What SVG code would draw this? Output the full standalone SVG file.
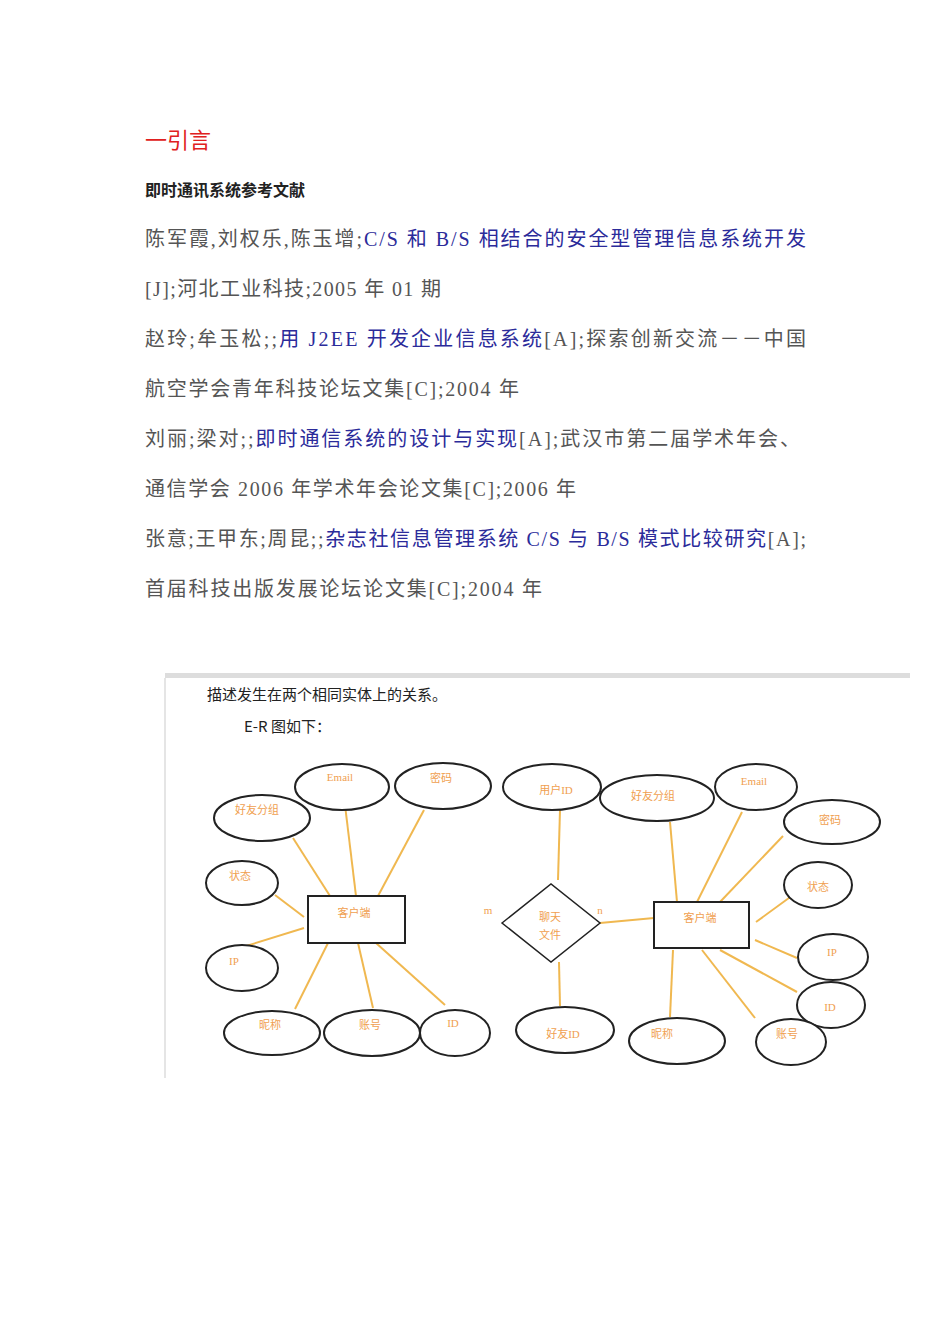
<svg xmlns="http://www.w3.org/2000/svg" width="950" height="1344" viewBox="0 0 950 1344">
<style>
.b{font-family:"Liberation Serif","Noto Sans CJK SC",serif;font-size:20px;fill:#555}
.bl{fill:#2b2b9a}
.e{fill:#fff;stroke:#222;stroke-width:2}
.l{stroke:#f0b850;stroke-width:2}
.t{font-family:"Liberation Serif","Noto Sans CJK SC",serif;font-size:11px;fill:#f0a050;text-anchor:middle}
.d{font-family:"Noto Sans CJK SC",sans-serif;font-size:15px;fill:#222}
</style>
<rect width="950" height="1344" fill="#fff"/>
<text x="145" y="148" font-family="Noto Sans CJK SC,sans-serif" font-size="22" fill="#e02020">一引言</text>
<text x="145" y="196" font-family="Noto Sans CJK SC,sans-serif" font-size="16" font-weight="bold" fill="#222">即时通讯系统参考文献</text>
<text class="b" x="145" y="246" textLength="661" lengthAdjust="spacing">陈军霞,刘权乐,陈玉增;<tspan class="bl">C/S 和 B/S 相结合的安全型管理信息系统开发</tspan></text>
<text class="b" x="145" y="296" textLength="296" lengthAdjust="spacing">[J];河北工业科技;2005 年 01 期</text>
<text class="b" x="145" y="346" textLength="661" lengthAdjust="spacing">赵玲;牟玉松;;<tspan class="bl">用  J2EE  开发企业信息系统</tspan>[A];探索创新交流－－中国</text>
<text class="b" x="145" y="396" textLength="374" lengthAdjust="spacing">航空学会青年科技论坛文集[C];2004 年</text>
<text class="b" x="145" y="446" textLength="655" lengthAdjust="spacing">刘丽;梁对;;<tspan class="bl">即时通信系统的设计与实现</tspan>[A];武汉市第二届学术年会、</text>
<text class="b" x="145" y="496" textLength="431" lengthAdjust="spacing">通信学会 2006 年学术年会论文集[C];2006 年</text>
<text class="b" x="145" y="546" textLength="661" lengthAdjust="spacing">张意;王甲东;周昆;;<tspan class="bl">杂志社信息管理系统 C/S 与 B/S 模式比较研究</tspan>[A];</text>
<text class="b" x="145" y="596" textLength="397" lengthAdjust="spacing">首届科技出版发展论坛论文集[C];2004 年</text>
<rect x="165" y="673" width="745" height="5" fill="#ddd"/>
<line x1="165" y1="678" x2="165" y2="1078" stroke="#ddd" stroke-width="1.5"/>
<text class="d" x="207" y="700">描述发生在两个相同实体上的关系。</text>
<text class="d" x="244" y="732" fill="#444">E-R 图如下：</text>
<g id="connectors">
<line class="l" x1="293" y1="838" x2="330" y2="896"/><line class="l" x1="345" y1="805" x2="356" y2="896"/>
<line class="l" x1="424" y1="810" x2="378" y2="896"/><line class="l" x1="275" y1="895" x2="304" y2="917"/>
<line class="l" x1="304" y1="928" x2="243" y2="947"/><line class="l" x1="328" y1="943" x2="295" y2="1009"/>
<line class="l" x1="358" y1="943" x2="373" y2="1008"/><line class="l" x1="376" y1="943" x2="445" y2="1005"/>
<line class="l" x1="560" y1="810" x2="558" y2="880"/><line class="l" x1="559" y1="962" x2="560" y2="1006"/>
<line class="l" x1="600" y1="923" x2="654" y2="918"/><line class="l" x1="670" y1="822" x2="677" y2="902"/>
<line class="l" x1="742" y1="812" x2="697" y2="902"/><line class="l" x1="783" y1="836" x2="720" y2="902"/>
<line class="l" x1="793" y1="895" x2="756" y2="922"/><line class="l" x1="755" y1="940" x2="797" y2="958"/>
<line class="l" x1="720" y1="950" x2="797" y2="992"/><line class="l" x1="702" y1="950" x2="755" y2="1018"/>
<line class="l" x1="673" y1="950" x2="670" y2="1017"/>
</g>
<g id="l-email"><ellipse class="e" cx="342" cy="787" rx="47" ry="23"/><text class="t" x="340" y="781">Email</text></g>
<g id="l-pwd"><ellipse class="e" cx="443" cy="786" rx="48" ry="23"/><text class="t" x="441" y="782">密码</text></g>
<g id="l-group"><ellipse class="e" cx="262" cy="818" rx="48" ry="23"/><text class="t" x="257" y="814">好友分组</text></g>
<g id="l-state"><ellipse class="e" cx="242" cy="883" rx="36" ry="22"/><text class="t" x="240" y="880">状态</text></g>
<g id="l-ip"><ellipse class="e" cx="242" cy="968" rx="36" ry="23"/><text class="t" x="234" y="965">IP</text></g>
<g id="l-nick"><ellipse class="e" cx="272" cy="1033" rx="48" ry="22"/><text class="t" x="270" y="1029">昵称</text></g>
<g id="l-acct"><ellipse class="e" cx="372" cy="1033" rx="48" ry="23"/><text class="t" x="370" y="1029">账号</text></g>
<g id="l-id"><ellipse class="e" cx="455" cy="1033" rx="35" ry="23"/><text class="t" x="453" y="1027">ID</text></g>
<g id="l-client"><rect x="308" y="896" width="97" height="47" fill="#fff" stroke="#222" stroke-width="2"/><text class="t" x="354" y="917">客户端</text></g>
<text class="t" x="488" y="914" font-size="9">m</text>
<text class="t" x="600" y="914" font-size="9">n</text>
<g id="rel"><polygon points="502,923 551,884 600,923 551,962" fill="#fff" stroke="#222" stroke-width="1.5"/><text class="t" x="550" y="921">聊天</text><text class="t" x="550" y="939">文件</text></g>
<g id="r-uid"><ellipse class="e" cx="552" cy="787" rx="49" ry="23"/><text class="t" x="556" y="794">用户ID</text></g>
<g id="r-group"><ellipse class="e" cx="657" cy="798" rx="57" ry="23"/><text class="t" x="653" y="800">好友分组</text></g>
<g id="r-email"><ellipse class="e" cx="756" cy="787" rx="41" ry="23"/><text class="t" x="754" y="785">Email</text></g>
<g id="r-pwd"><ellipse class="e" cx="832" cy="822" rx="48" ry="22"/><text class="t" x="830" y="824">密码</text></g>
<g id="r-state"><ellipse class="e" cx="818" cy="885" rx="34" ry="23"/><text class="t" x="818" y="891">状态</text></g>
<g id="r-ip"><ellipse class="e" cx="833" cy="957" rx="35" ry="23"/><text class="t" x="832" y="956">IP</text></g>
<g id="r-id"><ellipse class="e" cx="831" cy="1005" rx="34" ry="23"/><text class="t" x="830" y="1011">ID</text></g>
<g id="r-acct"><ellipse class="e" cx="791" cy="1042" rx="35" ry="23"/><text class="t" x="787" y="1038">账号</text></g>
<g id="r-nick"><ellipse class="e" cx="677" cy="1041" rx="48" ry="23"/><text class="t" x="662" y="1038">昵称</text></g>
<g id="r-fid"><ellipse class="e" cx="565" cy="1030" rx="49" ry="23"/><text class="t" x="563" y="1038">好友ID</text></g>
<g id="r-client"><rect x="654" y="902" width="95" height="46" fill="#fff" stroke="#222" stroke-width="2"/><text class="t" x="700" y="922">客户端</text></g>
</svg>
